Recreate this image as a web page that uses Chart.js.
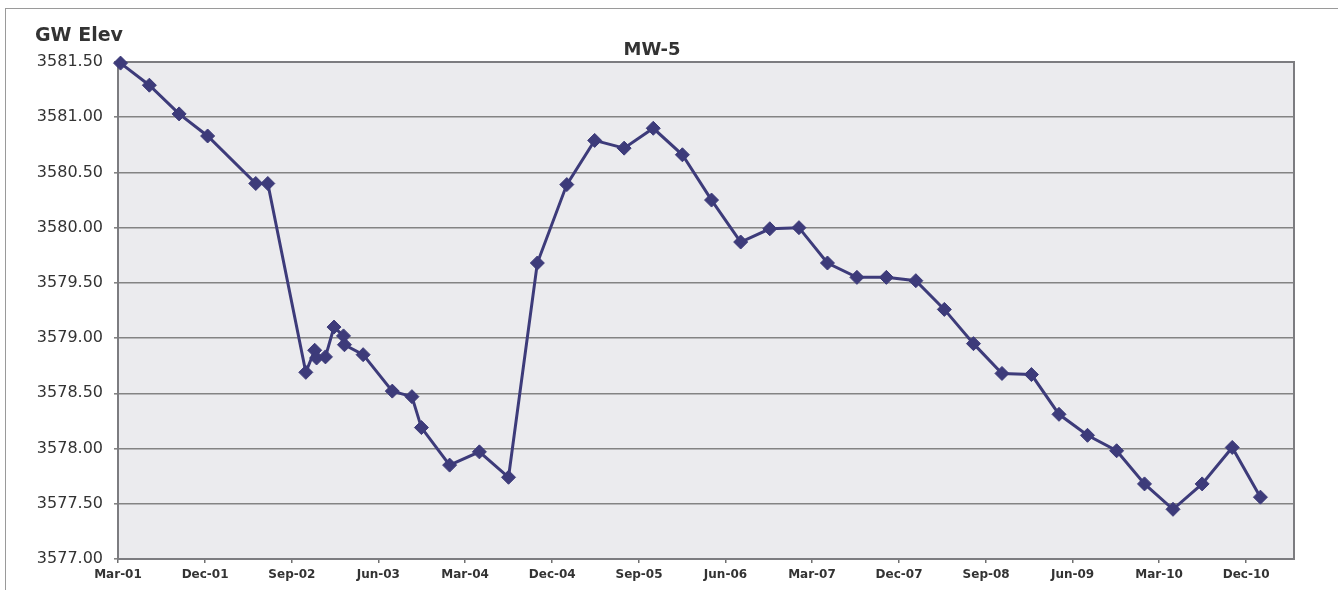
<!DOCTYPE html>
<html>
<head>
<meta charset="utf-8">
<title>MW-5</title>
<script src="https://cdn.jsdelivr.net/npm/chart.js@4/dist/chart.umd.min.js"></script>
<style>
  html, body { margin: 0; padding: 0; background: #ffffff; }
  #wrap { width: 1338px; height: 590px; position: relative; }
</style>
</head>
<body>
<div id="wrap"><canvas id="c" width="1338" height="590"></canvas></div>
<script>
// Monitoring well MW-5: groundwater elevation by sampling date
const sampleDates = [
  '2001-03-09', '2001-06-08', '2001-09-10', '2001-12-09', '2002-05-10', '2002-06-17',
  '2002-10-15', '2002-11-12', '2002-11-18', '2002-12-16', '2003-01-12', '2003-02-11',
  '2003-02-14', '2003-04-14', '2003-07-15', '2003-09-15', '2003-10-15', '2004-01-12',
  '2004-04-15', '2004-07-16', '2004-10-15', '2005-01-16', '2005-04-14', '2005-07-16',
  '2005-10-16', '2006-01-16', '2006-04-18', '2006-07-19', '2006-10-19', '2007-01-19',
  '2007-04-19', '2007-07-21', '2007-10-22', '2008-01-23', '2008-04-22', '2008-07-23',
  '2008-10-21', '2009-01-22', '2009-04-19', '2009-07-18', '2009-10-18', '2010-01-14',
  '2010-04-14', '2010-07-15', '2010-10-18', '2011-01-15'
];
const gwElev = [
  3581.49, 3581.29, 3581.03, 3580.83, 3580.40, 3580.40,
  3578.69, 3578.89, 3578.82, 3578.83, 3579.10, 3579.02,
  3578.94, 3578.85, 3578.52, 3578.47, 3578.19, 3577.85,
  3577.97, 3577.74, 3579.68, 3580.39, 3580.79, 3580.72,
  3580.90, 3580.66, 3580.25, 3579.87, 3579.99, 3580.00,
  3579.68, 3579.55, 3579.55, 3579.52, 3579.26, 3578.95,
  3578.68, 3578.67, 3578.31, 3578.12, 3577.98, 3577.68,
  3577.45, 3577.68, 3578.01, 3577.56
];

// Date axis ticks every nine months
const xTickDates = [
  '2001-03-01', '2001-12-01', '2002-09-01', '2003-06-01', '2004-03-01', '2004-12-01', '2005-09-01',
  '2006-06-01', '2007-03-01', '2007-12-01', '2008-09-01', '2009-06-01', '2010-03-01', '2010-12-01'
];
const xTickLabels = [
  'Mar-01', 'Dec-01', 'Sep-02', 'Jun-03', 'Mar-04', 'Dec-04', 'Sep-05',
  'Jun-06', 'Mar-07', 'Dec-07', 'Sep-08', 'Jun-09', 'Mar-10', 'Dec-10'
];
const xRange = ['2001-03-01', '2011-05-01'];
const yRange = [3577.0, 3581.5];
const yStep = 0.5;

const chartTitle = 'MW-5';
const yAxisTitle = 'GW Elev';

// days since epoch, so the x axis can be a plain linear scale
function dayNum(s) {
  const p = s.split('-').map(Number);
  return Date.UTC(p[0], p[1] - 1, p[2]) / 86400000;
}

const points = sampleDates.map((d, i) => ({ x: dayNum(d), y: gwElev[i] }));

const FONT = "'DejaVu Sans', 'Liberation Sans', Arial, sans-serif";
const LINE = '#3d3b7a';

const framePlugin = {
  id: 'frame',
  beforeDraw(chart) {
    const { ctx, chartArea: a, width, height } = chart;
    ctx.save();
    ctx.fillStyle = '#ffffff';
    ctx.fillRect(0, 0, width, height);
    // outer border of the chart object
    ctx.strokeStyle = '#9a9a9a';
    ctx.lineWidth = 1;
    ctx.strokeRect(5.5, 8.5, width + 20, height + 20);
    // plot area fill
    ctx.fillStyle = '#ebebee';
    ctx.fillRect(a.left, a.top, a.right - a.left, a.bottom - a.top);
    ctx.restore();
  },
  beforeDatasetsDraw(chart) {
    const { ctx, chartArea: a } = chart;
    ctx.save();
    ctx.strokeStyle = '#7c7c80';
    ctx.lineWidth = 2;
    ctx.strokeRect(a.left, a.top, a.right - a.left, a.bottom - a.top);
    ctx.restore();
  },
  afterDraw(chart) {
    const { ctx } = chart;
    ctx.save();
    ctx.fillStyle = '#333333';
    ctx.textBaseline = 'alphabetic';
    ctx.font = 'bold 19px ' + FONT;
    ctx.textAlign = 'left';
    ctx.fillText(yAxisTitle, 35, 41);
    ctx.font = 'bold 18px ' + FONT;
    ctx.textAlign = 'center';
    ctx.fillText(chartTitle, 652, 55);
    ctx.restore();
  }
};

new Chart(document.getElementById('c'), {
  type: 'line',
  data: {
    datasets: [{
      data: points,
      borderColor: LINE,
      backgroundColor: LINE,
      borderWidth: 3,
      pointStyle: 'rectRot',
      pointRadius: 7,
      pointBorderWidth: 1,
      pointBorderColor: LINE,
      pointBackgroundColor: LINE,
      tension: 0,
      fill: false,
      clip: false
    }]
  },
  options: {
    responsive: false,
    animation: false,
    events: [],
    layout: { padding: { left: 0, right: 44, top: 62, bottom: 0 } },
    plugins: { legend: { display: false }, title: { display: false }, tooltip: { enabled: false } },
    scales: {
      x: {
        type: 'linear',
        min: dayNum(xRange[0]),
        max: dayNum(xRange[1]),
        afterBuildTicks(scale) {
          scale.ticks = xTickDates.map(d => ({ value: dayNum(d) }));
        },
        afterFit(scale) { scale.height = 31; },
        grid: { drawOnChartArea: false, drawTicks: true, tickLength: 4, color: '#6f6f6f', lineWidth: 1.5 },
        border: { display: true, color: '#6f6f73', width: 2 },
        ticks: {
          autoSkip: false,
          maxRotation: 0,
          minRotation: 0,
          padding: 5,
          color: '#333333',
          font: { family: FONT, size: 12, weight: 'bold' },
          callback: (v, i) => xTickLabels[i]
        }
      },
      y: {
        type: 'linear',
        min: yRange[0],
        max: yRange[1],
        afterFit(scale) { scale.width = 118; },
        grid: { color: '#838383', lineWidth: 1.6, drawTicks: true, tickLength: 4 },
        border: { display: true, color: '#7c7c80', width: 2 },
        ticks: {
          stepSize: yStep,
          padding: 11,
          color: '#333333',
          font: { family: FONT, size: 16 },
          callback: v => v.toFixed(2)
        }
      }
    }
  },
  plugins: [framePlugin]
});
</script>
</body>
</html>
